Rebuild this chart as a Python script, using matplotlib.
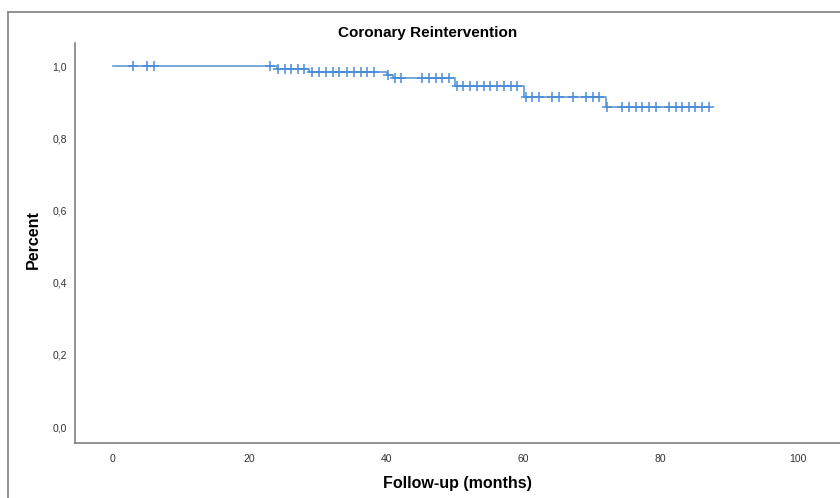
import numpy as np
import matplotlib
matplotlib.use("Agg")
import matplotlib.pyplot as plt
from matplotlib.lines import Line2D

plt.rcParams['font.family'] = ['Liberation Sans', 'DejaVu Sans']

# ─── Data ─────────────────────────────────────────────────────────────────────

event_times = [0, 24.0, 28.7, 40.0, 40.9, 50.0, 60.0, 72.0]
survival    = [1.0, 0.992, 0.984, 0.975, 0.967, 0.944, 0.914, 0.888]
censor_times = [3, 5, 6, 23, 24.1, 25.1, 26.1, 27.1, 28.0,
                29.1, 30.1, 31.1, 32.1, 33.1, 34.2, 35.2, 36.2, 37.2, 38.1,
                40.2, 41.2, 42.1, 45.2, 46.2, 47.2, 48.1, 49.1,
                50.3, 51.2, 52.2, 53.2, 54.2, 55.1, 56.1, 57.1, 58.1, 59.0,
                60.3, 61.3, 62.3, 64.2, 65.2, 67.2, 69.1, 70.1, 71.0,
                72.2, 74.4, 75.4, 76.4, 77.3, 78.3, 79.3, 81.2, 82.2,
                83.2, 84.1, 85.1, 86.1, 87.1]
end_time = 87.1

xticks = [0, 20, 40, 60, 80, 100]
yticks = [0.0, 0.2, 0.4, 0.6, 0.8, 1.0]

# ─── Plot ─────────────────────────────────────────────────────────────────────

fig = plt.figure(figsize=(8.4, 4.98), dpi=100)
ax = fig.add_axes([75/840, 1 - 443/498, 1 - 75/840, (443 - 43)/498])

line_col = '#5e9bd6'
mark_col = '#4a8cd8'

xs = event_times + [end_time]
ys = survival + [survival[-1]]
ax.step(xs, ys, where='post', color=line_col, lw=1.2, zorder=2)

idx = np.searchsorted(event_times, censor_times, side='right') - 1
cy = np.array(survival)[idx]
ax.plot(censor_times, cy, ls='none', marker='+', ms=7, mew=1.1,
        color=mark_col, zorder=3)

ax.set_xlim(-5.5, 106.2)
ax.set_ylim(-0.044, 1.064)
ax.set_xticks(xticks)
ax.set_xticklabels([str(t) for t in xticks])
ax.set_yticks(yticks)
ax.set_yticklabels([f"{v:.1f}".replace('.', ',') for v in yticks])
ax.tick_params(length=0, labelsize=7.5, labelcolor='#333333')
ax.tick_params(axis='x', pad=8)
ax.tick_params(axis='y', pad=6)

for s in ('top', 'right'):
    ax.spines[s].set_visible(False)
for s in ('left', 'bottom'):
    ax.spines[s].set_color('#808080')
    ax.spines[s].set_linewidth(1.2)

fig.text(428/840, 1 - 33/498, 'Coronary Reintervention', ha='center',
         va='center', fontsize=11, fontweight='bold')
fig.text(457/840, 1 - 483/498, 'Follow-up (months)', ha='center',
         va='center', fontsize=11.5, fontweight='bold')
fig.text(33/840, 1 - 240/498, 'Percent', ha='center', va='center',
         rotation=90, fontsize=11.5, fontweight='bold')

# outer chart frame (cropped at right and bottom)
fig.add_artist(Line2D([8/840, 8/840], [0, 1 - 12/498], transform=fig.transFigure,
                      color='#808080', lw=1.2))
fig.add_artist(Line2D([8/840, 1], [1 - 12/498, 1 - 12/498], transform=fig.transFigure,
                      color='#808080', lw=1.2))

fig.savefig('out.png', dpi=100)
